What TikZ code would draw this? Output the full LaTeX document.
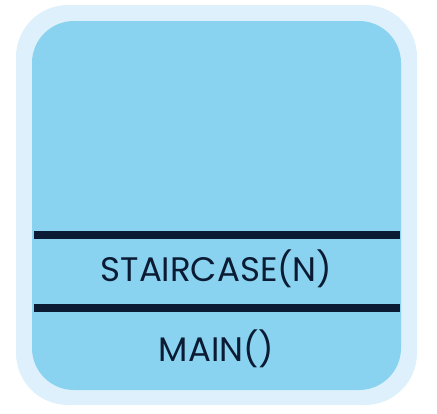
\documentclass[tikz,border=0pt]{standalone}
\usepackage{fontspec}
\setmainfont{Poppins}
\definecolor{outerblue}{HTML}{DDF0FC}
\definecolor{innerblue}{HTML}{89D3F0}
\definecolor{navy}{HTML}{0B1B33}
\begin{document}
\begin{tikzpicture}[x=1pt,y=-1pt,
  bar/.style={fill=navy},
  label/.style={anchor=base,inner sep=0pt,text=navy,font=\fontsize{34}{40}\selectfont}]
\useasboundingbox (0,0) rectangle (437,413);
\fill[outerblue,rounded corners=52pt] (16,5) rectangle (417,405);
\fill[innerblue,rounded corners=42pt] (32,21) rectangle (401,390);
\fill[bar] (34,231) rectangle (400,239);
\fill[bar] (34,304) rectangle (400,312);
\node[label] (stair) at (216.5,281) {STAIRCASE(N)};
\node[label] (main) at (216.5,361) {MAIN()};
\end{tikzpicture}
\end{document}
